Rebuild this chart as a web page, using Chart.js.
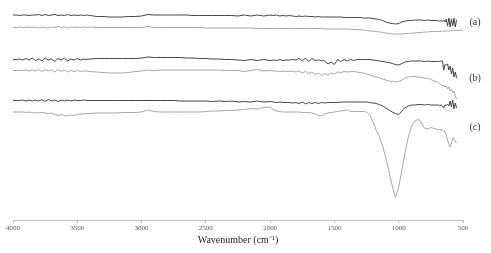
<!DOCTYPE html>
<html>
<head>
<meta charset="utf-8">
<script src="https://cdn.jsdelivr.net/npm/chart.js@4"></script>
<style>
  html, body { margin: 0; padding: 0; background: #fff; }
  canvas { display: block; }
</style>
</head>
<body>
<canvas id="ftir" width="491" height="253"></canvas>
<script>
// wavenumber grid (cm-1), shared by all six spectra
const wavenumbers = [
  4000, 3975, 3950, 3925, 3900, 3875, 3850, 3825, 3800, 3775, 3750, 3725, 3700, 3675, 3650, 3625, 3600, 3575, 3550, 3525, 3500, 3475, 3450, 3425, 3400,
  3350, 3300, 3250, 3200, 3150, 3100, 3050, 3000, 2950, 2900, 2850, 2800, 2750, 2700, 2650, 2600, 2550, 2500, 2450, 2400, 2350, 2300, 2250, 2200, 2150, 2100, 2050, 2000,
  1975, 1950, 1925, 1900, 1875, 1850, 1825, 1800, 1775, 1750, 1725, 1700, 1675, 1650, 1625, 1600, 1575, 1550, 1525, 1500, 1475, 1450, 1425, 1400,
  1375, 1350, 1325, 1300, 1275, 1250, 1225, 1200, 1175, 1150, 1125, 1100, 1075, 1050, 1025, 1000, 975, 950, 925, 900, 875, 850, 825, 800, 775, 750, 725, 700,
  690, 680, 670, 660, 650, 640, 630, 620, 610, 600, 590, 580, 570, 560, 550,
  500
];

// offset transmittance (a.u.), dark = first spectrum, light = second spectrum of each pair
const aDark = [
  205, 205, 204.5, 205, 205, 204.5, 205, 205, 205.5, 204.5, 205.5, 204.5, 205, 205.5, 204.5, 205, 204.5, 205.5, 204.5, 205, 204.5, 205, 204.5, 205, 204.5,
  203.5, 203.5, 203, 203, 203, 203.5, 203.5, 204, 205.5, 205, 205, 205, 205, 205, 205, 204.5, 204.5, 204.5, 204.5, 204.5, 204.5, 204.5, 204, 205, 204, 205, 204, 205,
  204.5, 205, 204, 204.5, 204, 204.5, 204, 203.5, 204, 203.5, 204, 203.5, 203.5, 203, 203.5, 203, 203, 203, 203, 203, 203, 203, 202.5, 202.5,
  202.5, 202.5, 202.5, 202.5, 202, 202, 202, 201.5, 201, 200.5, 199.5, 198, 197, 196.5, 196, 196.5, 198, 199, 199.5, 199.5, 200, 200, 200, 199.5, 200, 199.5, 199.5, 199.5,
  199, 199, 199.5, 198.5, 200, 198, 201, 194, 202, 193, 201, 194, 202, 193, 200,
  null
];
const aLight = [
  192.5, 192.5, 193, 192.5, 192.5, 193, 192.5, 193, 192, 193, 192.5, 192, 193, 192.5, 193.5, 192.5, 193, 192, 193, 192.5, 193, 192.5, 193, 192.5, 193,
  192.5, 192.5, 192.5, 192.5, 192.5, 192.5, 192.5, 192.5, 193.5, 192.5, 192.5, 192.5, 192.5, 192.5, 192.5, 192.5, 192.5, 192, 192, 192, 192, 192, 192, 192, 192, 191.5, 191.5, 191.5,
  191.5, 191.5, 191.5, 191.5, 191.5, 191.5, 191.5, 191.5, 191.5, 191.5, 191.5, 191.5, 191.5, 191.5, 191.5, 191.5, 191, 191, 191, 191, 191, 191, 191, 191,
  190.5, 190.5, 190.5, 190, 190, 189.5, 189, 189, 188.5, 188, 187.5, 187, 186.5, 186, 186, 186, 186, 186.5, 186.5, 187, 187, 187.5, 187.5, 188, 188, 188.5, 188.5, 188.5,
  188.5, 188.5, 188.5, 189, 189, 189, 189, 189, 189, 189, 189, 189.5, 189.5, 189.5, 189.5,
  190
];
const bDark = [
  160.5, 160.5, 161, 160, 161.5, 160, 162, 159.5, 161, 159, 162, 160, 161, 158.5, 161.5, 160, 162, 159, 161, 160, 161.5, 160, 161, 160.5, 161,
  161.5, 161.5, 161.5, 161.5, 161.5, 161.5, 161.5, 162, 163, 162.5, 162.5, 162.5, 162.5, 162.5, 162, 162, 161.5, 161.5, 161, 161, 160.5, 160.5, 160, 159.5, 160.5, 159.5, 160.5, 159.5,
  160, 159.5, 160.5, 159.5, 160, 160, 160.5, 160, 161.5, 159, 162, 158.5, 161.5, 159.5, 160, 159.5, 159, 156, 158, 155.5, 160.5, 158.5, 160.5, 159,
  160.5, 159.5, 160.5, 160.5, 160.5, 160.5, 160.5, 160, 159.5, 159, 158.5, 158, 157.5, 156.5, 155.5, 155, 156.5, 158, 158.5, 159, 159, 159, 159, 158.5, 159, 158.5, 158.5, 158.5,
  158.5, 158.5, 159, 159, 150, 155.5, 155, 156, 150, 154, 146, 152, 143, 148, 142,
  null
];
const bLight = [
  149.5, 149.5, 149.5, 149.5, 150, 149, 150, 149, 150.5, 148.5, 150.5, 149, 150, 148, 150.5, 148.5, 150, 148, 149.5, 148.5, 149.5, 148.5, 149, 149, 148.5,
  148, 147.5, 147, 147, 147, 147.5, 148.5, 149, 150, 149.5, 150, 150, 150, 150, 150, 150, 150, 150, 150, 150, 149.5, 149.5, 149.5, 148.5, 149.5, 150.5, 149, 149.5,
  149, 149, 148.5, 149, 148.5, 148.5, 149, 148, 149, 147, 148.5, 146.5, 148, 145.5, 147, 144.5, 146.5, 145, 147, 146, 148, 147.5, 148.5, 148,
  148.5, 148.5, 148, 147.5, 147, 146, 145, 144, 143, 142, 141, 140, 139, 138.5, 138, 138.5, 140, 142, 143, 143.5, 143.5, 143, 142.5, 142, 141.5, 140.5, 139, 138,
  137, 136, 135.5, 134, 135, 133, 134, 131, 133, 129, 131, 127, 129, 124, 121,
  null
];
const cDark = [
  119.5, 119.5, 119.5, 120, 119, 120, 119, 120, 119, 120.5, 118.5, 120.5, 119, 120, 118.5, 120, 119, 120, 119, 120, 119.5, 119.5, 120, 119.5, 119.5,
  119.5, 119.5, 119.5, 119.5, 119.5, 119.5, 119.5, 119.5, 119.5, 119.5, 119.5, 119.5, 119.5, 119, 119, 119, 119, 119, 118.5, 119, 118.5, 119, 118, 118.5, 118, 119, 118, 118.5,
  118, 117.5, 118, 117.5, 117.5, 117.5, 117, 117.5, 116.5, 118, 116, 117.5, 116.5, 117.5, 116.5, 117.5, 117, 117.5, 117.5, 117.5, 117.5, 118, 118, 118,
  118, 118, 118, 118, 118, 118, 117.5, 117, 116.5, 115.5, 114, 112, 110, 108, 106.5, 105.5, 109, 112.5, 114, 115, 115, 115.5, 115.5, 115, 115.5, 115, 115, 115,
  115, 114.5, 115, 114, 112, 115, 114.5, 116, 114, 119, 113, 120, 111, 117, 112,
  null
];
const cLight = [
  108, 108, 108, 108, 107.5, 108, 107, 107.5, 107, 107.5, 107, 106.5, 107, 105.5, 104.5, 105.5, 104.5, 104, 105, 104.5, 105.5, 106, 106, 106.5, 106.5,
  107, 107, 107, 107, 107.5, 107.5, 107.5, 108, 110, 108.5, 108, 108, 108, 108, 108, 108, 108, 108.5, 109, 109, 109.5, 109.5, 110, 110.5, 111.5, 111, 112.5, 113,
  110.5, 109, 108.5, 108, 108, 108, 108, 108, 108, 107.5, 107.5, 107.5, 107, 106, 104.5, 104, 106, 107, 107.5, 108, 108.5, 109, 109.5, 110,
  108.5, 108.5, 108.5, 108.5, 108.5, 108, 105, 98, 90, 83, 74, 62, 48, 34, 22.5, 33, 50, 68, 83, 94, 99, 100.5, 98, 92, 91, 92.5, 91.5, 90.5,
  90.5, 90, 91, 89, 90, 88, 85, 80, 76, 73, 77, 82, 81, 79, 77,
  null
];

const sampleLabels = ['(a)', '(b)', '(c)'];
const sampleLabelLevels = [198, 142, 93];
const xTicks = [4000, 3500, 3000, 2500, 2000, 1500, 1000, 500];

const darkColor = '#444444';
const lightColor = '#a6a6a6';

function toPoints(values) {
  return wavenumbers.map((w, i) => ({ x: w, y: values[i] }));
}

const sampleLabelPlugin = {
  id: 'sampleLabels',
  afterDatasetsDraw(chart) {
    const { ctx, scales: { x, y } } = chart;
    ctx.save();
    ctx.font = '10px "Liberation Serif", "Times New Roman", serif';
    ctx.fillStyle = '#333';
    ctx.textAlign = 'center';
    ctx.textBaseline = 'middle';
    sampleLabels.forEach((label, i) => {
      ctx.fillText(label, x.getPixelForValue(500) + 12, y.getPixelForValue(sampleLabelLevels[i]));
    });
    ctx.restore();
  }
};

const series = [aDark, aLight, bDark, bLight, cDark, cLight];

new Chart(document.getElementById('ftir'), {
  type: 'line',
  data: {
    datasets: series.map((values, i) => ({
      data: toPoints(values),
      borderColor: i % 2 === 0 ? darkColor : lightColor,
      borderWidth: 1,
      pointRadius: 0,
      tension: 0,
      spanGaps: false
    }))
  },
  options: {
    responsive: false,
    animation: false,
    layout: { padding: { left: 13, right: 28, top: 0, bottom: 0 } },
    plugins: {
      legend: { display: false },
      tooltip: { enabled: false }
    },
    scales: {
      x: {
        type: 'linear',
        reverse: true,
        min: 500,
        max: 4000,
        afterBuildTicks: scale => { scale.ticks = xTicks.map(v => ({ value: v })); },
        afterFit: scale => { scale.height = 33; },
        border: { display: true, color: '#bdbdbd', width: 1 },
        grid: { drawOnChartArea: false, drawTicks: true, tickLength: 3, color: '#bdbdbd' },
        ticks: {
          maxRotation: 0,
          padding: 1,
          color: '#555',
          callback: value => String(value),
          font: { family: '"Liberation Serif", "Times New Roman", serif', size: 7 }
        },
        title: {
          display: true,
          text: 'Wavenumber (cm⁻¹)',
          color: '#222',
          padding: { top: 0, bottom: 7 },
          font: { family: '"Liberation Serif", "Times New Roman", serif', size: 10 }
        }
      },
      y: {
        display: false,
        min: 0,
        max: 220
      }
    }
  },
  plugins: [sampleLabelPlugin]
});
</script>
</body>
</html>
